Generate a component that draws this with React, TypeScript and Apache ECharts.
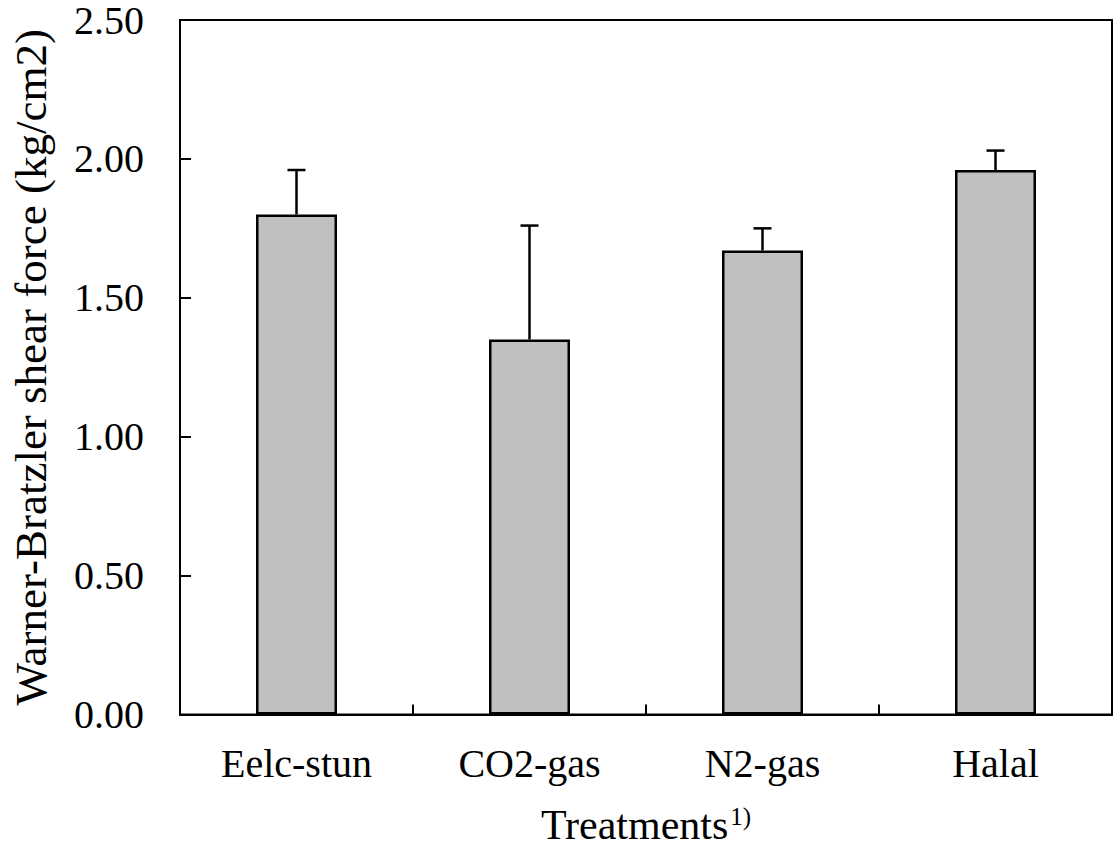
import React, { useEffect, useRef } from "react";
import * as echarts from "echarts";

const categories = ["Eelc-stun", "CO2-gas", "N2-gas", "Halal"];
const meanValues = [1.8, 1.35, 1.67, 1.96];
const errorValues = [0.16, 0.41, 0.08, 0.07];
const yTicks = [0, 0.5, 1.0, 1.5, 2.0, 2.5];

const FONT = "'Liberation Serif', 'Times New Roman', serif";

export default function App() {
  const ref = useRef<HTMLDivElement>(null);
  useEffect(() => {
    if (!ref.current) return;
    const chart = echarts.init(ref.current, undefined, { renderer: "svg" });
    const errData = categories.map((c, i) => [i, meanValues[i], errorValues[i]]);
    chart.setOption({
      animation: false,
      backgroundColor: "#ffffff",
      grid: {
        left: 164,
        right: 7,
        top: 15,
        bottom: 130,
        show: true,
        borderColor: "#000",
        borderWidth: 2,
        containLabel: false,
      },
      xAxis: {
        type: "category",
        data: categories,
        name: "Treatments{sup|1)}",
        nameLocation: "middle",
        nameGap: 89,
        nameTextStyle: {
          fontFamily: FONT,
          fontSize: 42,
          color: "#000",
          rich: {
            sup: { fontFamily: FONT, fontSize: 25, color: "#000", padding: [0, 0, 18, 2] },
          },
        },
        axisLine: { lineStyle: { color: "#000", width: 2 } },
        axisTick: { show: true, inside: true, length: 10, lineStyle: { color: "#000", width: 2 } },
        axisLabel: { fontFamily: FONT, fontSize: 40, color: "#000", margin: 29 },
        splitLine: { show: false },
      },
      yAxis: {
        type: "value",
        min: yTicks[0],
        max: yTicks[yTicks.length - 1],
        interval: 0.5,
        name: "Warner-Bratzler shear force (kg/cm2)",
        nameLocation: "middle",
        nameGap: 127,
        nameTextStyle: { fontFamily: FONT, fontSize: 45, color: "#000" },
        axisLine: { show: true, lineStyle: { color: "#000", width: 2 } },
        axisTick: { show: true, inside: true, length: 11, lineStyle: { color: "#000", width: 2 } },
        axisLabel: {
          fontFamily: FONT,
          fontSize: 40,
          lineHeight: 30,
          color: "#000",
          margin: 36,
          formatter: (v: number) => v.toFixed(2),
        },
        splitLine: { show: false },
      },
      series: [
        {
          type: "bar",
          data: meanValues,
          barWidth: 81,
          itemStyle: { color: "#c0c0c0", borderColor: "#000", borderWidth: 2.5 },
          z: 2,
        },
        {
          type: "custom",
          data: errData,
          z: 3,
          renderItem: (params: any, api: any) => {
            const idx = api.value(0);
            const mean = api.value(1);
            const err = api.value(2);
            const base = api.coord([idx, mean]);
            const top = api.coord([idx, mean + err]);
            const half = 9;
            const style = { stroke: "#000", lineWidth: 2.5 };
            return {
              type: "group",
              children: [
                { type: "line", shape: { x1: base[0], y1: base[1], x2: top[0], y2: top[1] }, style },
                { type: "line", shape: { x1: top[0] - half, y1: top[1], x2: top[0] + half, y2: top[1] }, style },
              ],
            };
          },
        },
      ],
    });
    return () => chart.dispose();
  }, []);
  return (
    <div
      ref={ref}
      style={{ position: "fixed", left: 0, top: 0, width: 1119, height: 851, background: "#fff" }}
    />
  );
}
